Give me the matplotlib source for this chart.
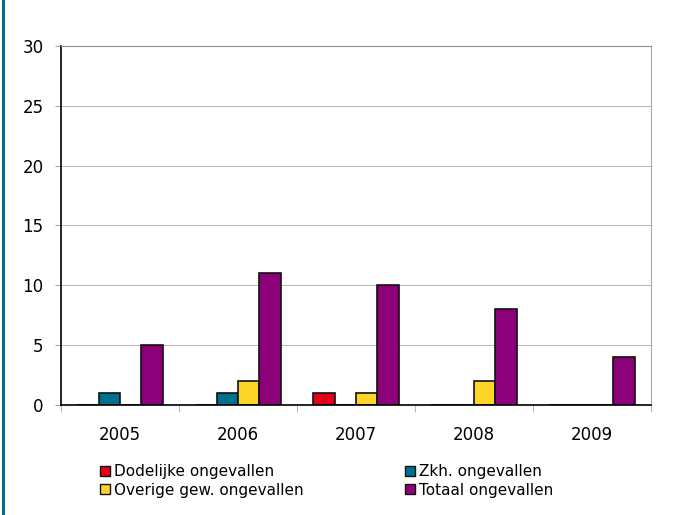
import numpy as np
import matplotlib.pyplot as plt
from matplotlib.lines import Line2D

jaren = ['2005', '2006', '2007', '2008', '2009']
dodelijk = [0, 0, 1, 0, 0]
zkh = [1, 1, 0, 0, 0]
overig = [0, 2, 1, 2, 0]
totaal = [5, 11, 10, 8, 4]

reeksen = [
    ('Dodelijke ongevallen', dodelijk, '#e30018'),
    ('Zkh. ongevallen', zkh, '#00708f'),
    ('Overige gew. ongevallen', overig, '#fdd526'),
    ('Totaal ongevallen', totaal, '#8c0079'),
]

plt.rcParams['font.family'] = ['DejaVu Sans']

fig = plt.figure(figsize=(6.82, 5.15), dpi=100)
ax = fig.add_axes([61 / 682, 1 - 405 / 515, 590 / 682, 359 / 515])

x = np.arange(len(jaren))
w = 0.182
for i, (naam, waarden, kleur) in enumerate(reeksen):
    ax.bar(x + (i - 1.5) * w, waarden, w, color=kleur, edgecolor='#111111',
           linewidth=1.2, label=naam, zorder=3)

ax.set_xlim(-0.5, 4.5)
ax.set_ylim(0, 30)
ax.set_yticks(range(0, 31, 5))
ax.yaxis.grid(True, color='#b4b4b4', linewidth=0.7, zorder=0)
ax.set_xticks(x)
ax.set_xticklabels(jaren)
ax.set_xticks(np.arange(-0.5, 5, 1), minor=True)
ax.tick_params(axis='x', which='major', length=0, pad=15, labelsize=12)
ax.tick_params(axis='x', which='minor', length=5, color='#a8a8a8')
ax.tick_params(axis='y', length=4.5, color='#a8a8a8', labelsize=12, pad=8)

ax.spines['left'].set_color('black')
ax.spines['bottom'].set_color('black')
ax.spines['left'].set_linewidth(1.2)
ax.spines['bottom'].set_linewidth(1.2)
ax.spines['right'].set_color('#a8a8a8')
ax.spines['top'].set_color('#909090')
for s in ax.spines.values():
    s.set_zorder(4)

# legenda: twee kolommen met kleine vierkantjes
handles = [Line2D([], [], marker='s', linestyle='none', markersize=7,
                  markerfacecolor=k, markeredgecolor='#111111', markeredgewidth=1.0)
           for _, _, k in reeksen]
namen = [n for n, _, _ in reeksen]
volgorde = [0, 2, 1, 3]
fig.legend([handles[i] for i in volgorde], [namen[i] for i in volgorde],
           ncol=2, loc='upper left', bbox_to_anchor=(100 / 682, 1 - 464 / 515),
           frameon=False, fontsize=11, handlelength=0.6, handletextpad=0.3,
           labelspacing=0.25, columnspacing=6.65, borderaxespad=0, borderpad=0)

# blauwe lijn langs de linkerrand
fig.add_artist(Line2D([2.5 / 682, 2.5 / 682], [0, 1], color='#0a6a8f', linewidth=2.2))

fig.savefig('out.png', dpi=100)
